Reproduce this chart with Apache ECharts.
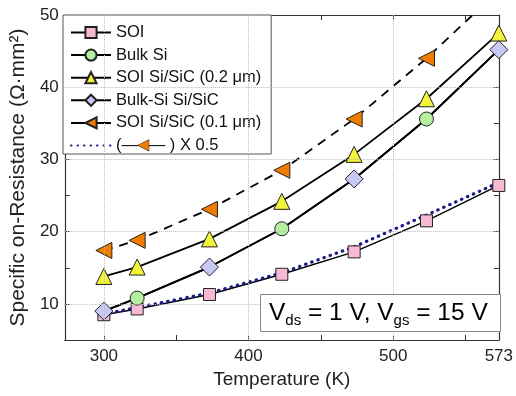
<!DOCTYPE html>
<html>
<head>
<meta charset="utf-8">
<script src="https://cdn.jsdelivr.net/npm/echarts@6/dist/echarts.min.js"></script>
<style>
html, body { margin: 0; padding: 0; background: #fff; }
#chart { width: 516px; height: 396px; }
</style>
</head>
<body>
<div id="chart"></div>
<script>
// temperatures (K) and specific on-resistance (ohm.mm2)
var temps = [300, 323, 373, 423, 473, 523, 573];
var soi = [8.5, 9.3, 11.3, 14.1, 17.2, 21.5, 26.4];
var bulkSi = [9.0, 10.8, 15.1, 20.4, 27.3, 35.6, 45.2];
var bulkSiSic = [9.0, 10.8, 15.1, 20.4, 27.3, 35.6, 45.2];
var soiSic02 = [13.8, 15.1, 19.0, 24.2, 30.7, 38.4, 47.5];
var soiSic01 = [17.4, 18.8, 23.1, 28.5, 35.6, 44.0, 53.4];
var halfSic01 = [8.6, 9.5, 11.5, 14.3, 17.9, 22.3, 26.8];

var xTicks = [300, 350, 400, 450, 500, 550];
var xLabels = [300, 400, 500, 573];
var yLabels = [10, 20, 30, 40, 50];
var xGrid = [300, 400, 500];
var yGrid = [10, 20, 30, 40];

// circles and diamonds share the curve, markers alternate
var circleShown = [false, true, false, true, false, true, false];

var names = ['SOI', 'Bulk Si', 'SOI Si/SiC (0.2 μm)', 'Bulk-Si Si/SiC', 'SOI Si/SiC (0.1 μm)', 'half'];

var font = 'Liberation Sans, Arial, sans-serif';

function pairs(vals) {
	var out = [];
	for (var i = 0; i < temps.length; i++) out.push([temps[i], vals[i]]);
	return out;
}
function pairsShown(vals, shown, size) {
	var out = [];
	for (var i = 0; i < temps.length; i++) {
		out.push({ value: [temps[i], vals[i]], symbolSize: shown[i] ? size : 0 });
	}
	return out;
}

var gridLines = [];
xGrid.forEach(function (v) { gridLines.push({ xAxis: v }); });
yGrid.forEach(function (v) { gridLines.push({ yAxis: v }); });

var chart = echarts.init(document.getElementById('chart'));
chart.setOption({
	animation: false,
	grid: { left: 63, right: 13, top: 15, bottom: 56 },
	xAxis: [{
		type: 'value', min: 273, max: 573,
		name: 'Temperature (K)', nameLocation: 'middle', nameGap: 30,
		nameTextStyle: { fontFamily: font, fontSize: 19, color: '#222' },
		axisLine: { lineStyle: { color: '#333', width: 1.2 } },
		axisTick: { inside: true, length: 5, customValues: xTicks, lineStyle: { color: '#333' } },
		axisLabel: { customValues: xLabels, fontFamily: font, fontSize: 17, color: '#222', margin: 8 },
		splitLine: { show: false }
	}, {
		type: 'value', min: 273, max: 573, position: 'top',
		axisLine: { lineStyle: { color: '#333', width: 1.2 } },
		axisTick: { inside: true, length: 5, customValues: xTicks, lineStyle: { color: '#333' } },
		axisLabel: { show: false },
		splitLine: { show: false }
	}],
	yAxis: [{
		type: 'value', min: 5, max: 50, interval: 5,
		name: 'Specific on-Resistance (Ω·mm²)', nameLocation: 'middle', nameGap: 20,
		nameTextStyle: { fontFamily: font, fontSize: 21, color: '#222' },
		axisLine: { show: true, lineStyle: { color: '#333', width: 1.2 } },
		axisTick: { show: true, inside: true, length: 5, lineStyle: { color: '#333' } },
		axisLabel: { customValues: yLabels, fontFamily: font, fontSize: 17, color: '#222', margin: 6 },
		splitLine: { show: false }
	}, {
		type: 'value', min: 5, max: 50, interval: 5, position: 'right',
		axisLine: { show: true, lineStyle: { color: '#333', width: 1.2 } },
		axisTick: { show: true, inside: true, length: 5, lineStyle: { color: '#333' } },
		axisLabel: { show: false },
		splitLine: { show: false }
	}],
	legend: {
		orient: 'vertical', left: 63, top: 15,
		itemWidth: 40, itemHeight: 14, itemGap: 5.6,
		padding: [9, 10, 0, 7],
		backgroundColor: '#fff', borderColor: '#555', borderWidth: 1,
		textStyle: {
			fontFamily: font, fontSize: 16.5, color: '#111',
			rich: {
				p: { fontFamily: font, fontSize: 16.5, color: '#111' },
				d: { fontFamily: font, fontSize: 16.5, color: '#111' },
				o: { fontFamily: 'DejaVu Sans', fontSize: 14, color: '#f07c00', textBorderColor: '#000', textBorderWidth: 1 }
			}
		},
		formatter: function (name) {
			if (name === 'half') return '{p|(}{d|—}{o|◀}{d|—}{p| ) X 0.5}';
			return name;
		},
		data: [
			{ name: names[0] }, { name: names[1] }, { name: names[2] }, { name: names[3] },
			{ name: names[4], lineStyle: { type: 'solid' } },
			{ name: names[5], itemStyle: { color: 'rgba(0,0,0,0)', borderColor: 'rgba(0,0,0,0)' } }
		]
	},
	series: [{
		name: 'grid', type: 'line', data: [], silent: true, z: 0,
		markLine: {
			silent: true, symbol: 'none', label: { show: false },
			lineStyle: { color: '#bbb', type: 'dotted', width: 1 },
			data: gridLines
		}
	}, {
		name: names[0], type: 'line', data: pairs(soi),
		symbol: 'rect', symbolSize: 12,
		lineStyle: { color: '#000', width: 1.5 },
		itemStyle: { color: '#f7b9d3', borderColor: '#222', borderWidth: 1 }
	}, {
		name: names[1], type: 'line', data: pairsShown(bulkSi, circleShown, 14),
		symbol: 'circle', symbolSize: 14,
		lineStyle: { color: '#000', width: 1.8 },
		itemStyle: { color: '#b5f0a0', borderColor: '#222', borderWidth: 1 }
	}, {
		name: names[2], type: 'line', data: pairs(soiSic02),
		symbol: 'triangle', symbolSize: 16,
		lineStyle: { color: '#000', width: 1.8 },
		itemStyle: { color: '#f3f33a', borderColor: '#222', borderWidth: 1 }
	}, {
		name: names[3], type: 'line', data: pairsShown(bulkSiSic, circleShown.map(function (s) { return !s; }), 18),
		symbol: 'diamond', symbolSize: 18,
		lineStyle: { color: '#000', width: 1.8 },
		itemStyle: { color: '#c8c8f6', borderColor: '#222', borderWidth: 1 }
	}, {
		name: names[4], type: 'line', data: pairs(soiSic01),
		symbol: 'triangle', symbolRotate: 90, symbolSize: 16,
		lineStyle: { color: '#000', width: 1.8, type: [9, 7] },
		itemStyle: { color: '#f07c00', borderColor: '#222', borderWidth: 1 }
	}, {
		name: names[5], type: 'line', data: pairs(halfSic01),
		symbol: 'none',
		lineStyle: { color: '#1a1a8a', width: 3.2, type: [0.5, 6], cap: 'round' },
		itemStyle: { color: '#1a1a8a' }
	}],
	graphic: [{
		type: 'rect', left: 260, top: 294, z: 100,
		shape: { width: 240, height: 37 },
		style: { fill: '#fff', stroke: '#888', lineWidth: 1 }
	}, {
		type: 'text', left: 269, top: 296, z: 101,
		style: {
			text: '{n|V}{s|ds}{n| = 1 V, V}{s|gs}{n| = 15 V}',
			rich: {
				n: { fontFamily: font, fontSize: 24.5, color: '#111', lineHeight: 27, verticalAlign: 'top' },
				s: { fontFamily: font, fontSize: 15, color: '#111', lineHeight: 16, padding: [17, 0, 0, 0], verticalAlign: 'bottom' }
			}
		}
	}]
});
</script>
</body>
</html>
